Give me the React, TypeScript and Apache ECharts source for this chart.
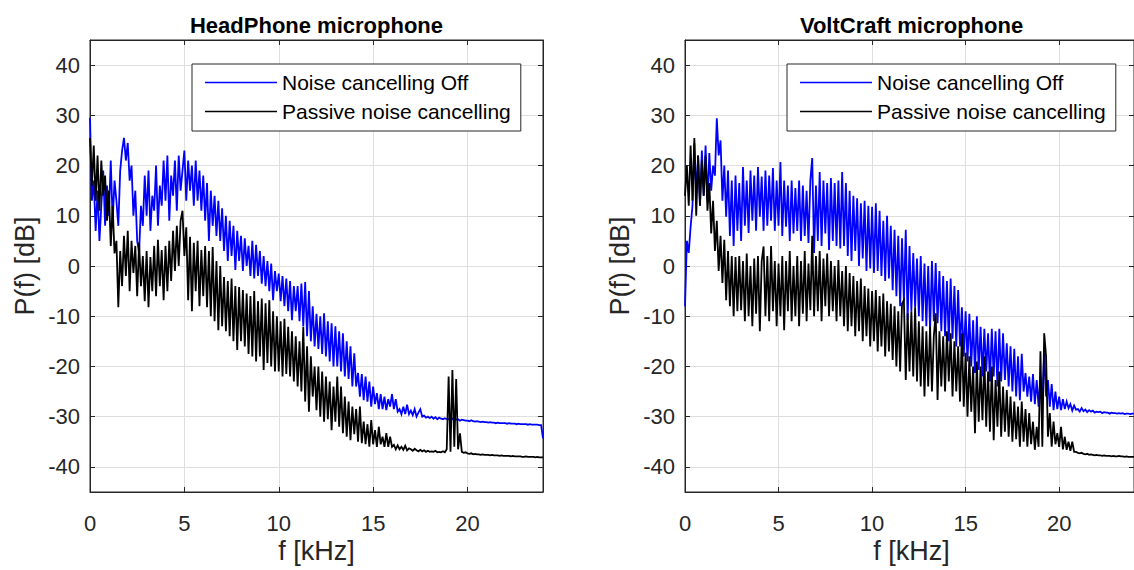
import React, { useEffect, useRef } from 'react';
import * as echarts from 'echarts';

// Frequency resolution of the value arrays (kHz between successive values)
const STEP_KHZ = 0.1;

const X_LABEL = 'f [kHz]';
const Y_LABEL = 'P(f) [dB]';
const TITLES = ['HeadPhone microphone', 'VoltCraft microphone'];
const SERIES_NAMES = ['Noise cancelling Off', 'Passive noise cancelling'];

// HeadPhone microphone, noise cancelling off (dB), 0..24 kHz every 0.1 kHz
const HP_OFF = [
  29.5, 13, 17, 7, 15, 5, 12, 19, 8, 16,
  10, 21, 9, 17, 13, 8, 19, 23, 25.5, 21,
  24.5, 17, 20, 10, 15, 5, 2.6, 12, 8, 18,
  10, 19, 7, 14, 11, 20, 8, 16, 12, 21,
  13, 22, 9, 18, 14, 21, 11, 22, 15, 19,
  23, 13, 21, 15, 20, 12, 21, 13, 19, 11,
  18, 9, 16.5, 5, 15, 8, 14, 6, 13, 5,
  11.5, 3, 10, 1, 9, 2, 8, -0.8, 7, 1,
  6, -1, 5.5, 0, 4, -2, 5, -2.5, 4.2, -2,
  3, -3.5, 2, -4, 1, -5, 0.5, -6.8, -1, -5,
  -1.5, -7, -2, -8, -2.5, -9, -3, -10.8, -4, -9,
  -4, -11, -3.5, -12, -3.2, -14, -5, -15, -8, -16,
  -9.5, -16.5, -10, -17.5, -9.4, -18, -11, -19, -11.4, -20,
  -12, -20, -13, -21, -13.4, -22, -15, -22.5, -16, -24,
  -17.4, -24, -21.3, -26, -21.5, -26.7, -22, -27, -23, -28,
  -24, -27.5, -25.3, -28.5, -25.5, -28.5, -26, -28.7, -26.5, -28,
  -25.5, -28.5, -26.5, -29, -28.5, -29.5, -28, -29.5, -27.6, -29.5,
  -28.8, -29.7, -28.5, -30, -29.2, -28.5, -30, -29.8, -30.2, -30,
  -30.3, -30, -30.4, -30.1, -30.5, -30.2, -30.4, -30.5, -30.3, -30.5,
  -30.5, -30.6, -30.4, -30.7, -30.6, -30.5, -30.8, -30.6, -30.7, -30.8,
  -30.8, -30.9, -30.7, -30.9, -31, -30.9, -31, -31.1, -31, -31.1,
  -31.1, -31.2, -31.1, -31.2, -31.2, -31.3, -31.2, -31.3, -31.3, -31.3,
  -31.3, -31.4, -31.3, -31.4, -31.4, -31.4, -31.5, -31.4, -31.5, -31.5,
  -31.5, -31.5, -31.6, -31.5, -31.6, -31.6, -31.6, -31.6, -31.7, -31.7,
  -34.3,
];

// HeadPhone microphone, passive noise cancelling (dB)
const HP_PASSIVE = [
  25.5, 16, 24, 13, 22, 11, 21, 14, 18, 9,
  15, 4, 12, 2.5, 5, -8.2, 3, -4, 6, -2,
  7, -5, 5, -1.4, 4, -6, 4.6, -4, 2, -7,
  3, -8.2, 1.8, -5, 4, -6, 5.2, -4, 3.2, -6.8,
  4, -5, 5, -3, 7, -1, 8, 0, 9, 11,
  2, 7.7, -6.8, 5.8, -9, 4.6, -5, 5, -8, 3.2,
  -6, 4, -8.2, 3, -10, 3.8, -11, 1, -12.8, 0,
  -12, -2.2, -13, -3, -14, -2.5, -15, -4, -16.7, -4.2,
  -15, -4.8, -16, -5.5, -17.5, -6, -18, -5, -19, -7,
  -18, -6.5, -20.7, -7.4, -19.3, -6.8, -20, -9, -21, -10,
  -21, -11, -22, -10.5, -21.5, -12.1, -22, -13, -23, -14,
  -24, -15, -25, -12.1, -27, -16, -29, -18, -26, -20,
  -28.7, -20, -30, -21, -31, -22, -30.5, -23, -32.7, -24,
  -31, -22, -32, -24, -33.3, -26, -34, -27, -34.7, -28,
  -33.5, -28.5, -35, -28, -35.3, -31, -35.5, -31.5, -36, -30.7,
  -35.5, -32.7, -36, -32, -35.5, -34, -36, -33.3, -36, -34,
  -36, -35.6, -36.5, -35.7, -36.5, -36, -36.6, -35.8, -36.7, -36.3,
  -36.5, -36.8, -36.4, -36.7, -36.9, -36.6, -36.9, -36.7, -37, -36.8,
  -37, -36.9, -37, -36.8, -37.1, -37, -37.1, -36.9, -37.1, -36.5,
  -22, -37, -20.7, -36, -22.5, -36.5, -33.3, -37, -37.2, -37.1,
  -37.3, -37.4, -37.3, -37.5, -37.4, -37.5, -37.5, -37.6, -37.5, -37.6,
  -37.6, -37.6, -37.7, -37.6, -37.7, -37.7, -37.7, -37.8, -37.7, -37.8,
  -37.8, -37.8, -37.8, -37.9, -37.8, -37.9, -37.9, -37.9, -37.9, -38,
  -38, -37.9, -38, -38, -38, -38, -38.1, -38, -38.1, -38.1,
  -38.1,
];

// VoltCraft microphone, noise cancelling off (dB)
const VC_OFF = [
  -8, 5, 2.6, 7.8, 12, 24.5, 14, 22, 12, 23,
  14, 24, 13, 22.5, 15, 20, 18, 29.4, 22, 25,
  13, 20, 9.8, 19, 6, 17, 4, 18, 7, 16.5,
  5, 19.7, 8, 17, 6.6, 19, 9, 18, 7, 19.7,
  9.8, 17.8, 7, 19, 8, 18, 9, 19.5, 7, 17,
  8, 20.7, 6, 17, 7.8, 16, 5, 17, 6.5, 15.5,
  7, 17, 5, 16, 6, 15, 4.6, 17, 21.5, 2.6,
  16, 5, 18.7, 4, 17, 6.5, 16.5, 3.2, 17.5, 5,
  16.5, 4, 17, 3.5, 18.7, 4, 16.5, 2, 15, 1,
  14, 3, 13.5, 0, 12.5, 1.5, 13, -1, 12, -0.5,
  11.8, -1.4, 12.5, -1, 11, -2, 9, -3, 10, -2.5,
  8, -4.8, 7.2, -6, 6, -8, 5.5, -7, 7.2, -10.8,
  4, -9, 2.6, -8.2, 1.5, -10, 2, -11, 0.5, -12,
  0, -12.8, 1, -11, 0.6, -11.4, -1, -13, -2, -14,
  -3, -15, -2.5, -14.5, -4, -16, -4.8, -16, -8.2, -18,
  -9, -19, -9.5, -20, -10.8, -21.3, -10, -20.7, -12.1, -22,
  -12.5, -21, -13.4, -23, -12.5, -22, -13, -24, -12.5, -23,
  -13.4, -22.7, -15.4, -24, -16, -25, -16.5, -26, -18, -26.7,
  -17.5, -25, -21.3, -26, -22, -27, -21.5, -27.5, -22.7, -28,
  -22, -27, -17.3, -26, -22.7, -28, -23.5, -28.7, -25, -28.5,
  -26, -28.7, -26.5, -28.5, -27, -28.3, -27.5, -28.8, -27.8, -28.6,
  -28.5, -29, -28.3, -28.9, -28.6, -29.1, -28.7, -29, -28.8, -29.2,
  -29, -29.1, -29, -29.3, -29.1, -29.2, -29.2, -29.4, -29.2, -29.3,
  -29.3, -29.4, -29.3, -29.4, -29.3, -29.5, -29.4, -29.4, -29.5, -29.4,
  -29.4,
];

// VoltCraft microphone, passive noise cancelling (dB)
const VC_PASSIVE = [
  14, 20, 12, 24, 13, 25.5, 10, 22, 12, 21,
  14, 22, 11, 16.5, 6.5, 13, 3, 9, -1, 6,
  -3.4, 5.2, -6.8, 3, -8, 2, -10, 1.8, -9, 2,
  -8.8, 1, -11, 2.5, -10, 0, -12, 1.5, -9.5, 2,
  -13, 1, 3.9, -10, 2, -11, 4, -9, 1, -12,
  0.5, -10, 2, -12.8, 1, -9, 3, -11, 0, -10,
  2, -12, 1, -9.5, 3, -11, 0.5, -8.8, 6, -10,
  2, -9, 3, -11, 1.5, -8, 2.5, -10, 1, -9,
  0, -11, 1.2, -10, -1, -12, 0, -13, -1.4, -12,
  -2, -14, -3, -13, -2.5, -15, -4, -14, -4.5, -16,
  -5, -15, -4.8, -17, -6, -16, -5.5, -18, -7, -17,
  -7.5, -18.7, -8, -20, -9, -21, -7.5, -6.8, -22.7, -9.4,
  -21, -9, -22, -8.2, -23, -11, -24, -12, -26, -13,
  -24, -12, -25, -14, -9.4, -26.7, -13, -24, -14, -25,
  -13, -23, -13.4, -26, -15, -25, -16, -27, -13.4, -28,
  -17.3, -30, -18, -29, -20, -33.3, -19, -31, -20, -30.7,
  -18, -32, -21, -33, -20, -34.7, -22.7, -32, -21, -34,
  -24, -33, -24.7, -34, -26, -35, -27, -34.5, -28, -36,
  -27, -35, -28.5, -36, -29.3, -35.5, -31, -36.6, -32, -36,
  -17, -36, -13.4, -18, -34, -29.3, -36, -31, -35.5, -33.3,
  -36, -32, -36.5, -34, -36.6, -35, -36.8, -35, -37, -37,
  -37.2, -37.3, -37.2, -37.4, -37.5, -37.4, -37.6, -37.5, -37.6, -37.7,
  -37.6, -37.7, -37.7, -37.8, -37.7, -37.8, -37.8, -37.8, -37.9, -37.8,
  -37.9, -37.9, -37.8, -37.9, -37.9, -38, -37.9, -38, -38, -38,
  -38,
];

const X_MIN = 0;
const X_MAX = 24;
const X_INTERVAL = 5;
const Y_MIN = -45;
const Y_MAX = 45;

const FONT = '"Liberation Sans", Arial, Helvetica, sans-serif';
const TXT = '#262626';
const GRID_COLOR = '#dedede';
const BLUE = '#0000ff';
const BLACK = '#000000';

function toPairs(vals: number[]) {
  return vals.map((v, i) => [Math.round(i * STEP_KHZ * 100) / 100, v]);
}

const GRIDS = [
  { left: 90, top: 40, width: 453, height: 452 },
  { left: 685, top: 40, width: 453, height: 452 },
];

function buildOption() {
  const grid = GRIDS.map((g) => ({
    ...g,
    show: true,
    borderColor: TXT,
    borderWidth: 1,
    backgroundColor: '#ffffff',
    containLabel: false,
  }));

  const xAxis: any[] = [];
  const yAxis: any[] = [];
  GRIDS.forEach((_, gi) => {
    xAxis.push({
      type: 'value',
      gridIndex: gi,
      min: X_MIN,
      max: X_MAX,
      interval: X_INTERVAL,
      position: 'bottom',
      axisLine: { show: true, onZero: false, lineStyle: { color: TXT, width: 1 } },
      axisTick: { show: true, inside: true, length: 5, lineStyle: { color: TXT, width: 1 } },
      axisLabel: { color: TXT, fontSize: 22, fontFamily: FONT, margin: 20, showMaxLabel: false },
      splitLine: { show: true, lineStyle: { color: GRID_COLOR, width: 1 } },
    });
    xAxis.push({
      type: 'value',
      gridIndex: gi,
      min: X_MIN,
      max: X_MAX,
      interval: X_INTERVAL,
      position: 'top',
      axisLine: { show: true, onZero: false, lineStyle: { color: TXT, width: 1 } },
      axisTick: { show: true, inside: true, length: 5, lineStyle: { color: TXT, width: 1 } },
      axisLabel: { show: false },
      splitLine: { show: false },
    });
    yAxis.push({
      type: 'value',
      gridIndex: gi,
      min: Y_MIN,
      max: Y_MAX,
      splitNumber: 9,
      position: 'left',
      axisLine: { show: true, onZero: false, lineStyle: { color: TXT, width: 1 } },
      axisTick: { show: true, inside: true, length: 5, lineStyle: { color: TXT, width: 1 } },
      axisLabel: {
        color: TXT,
        fontSize: 22,
        fontFamily: FONT,
        margin: 10,
        showMinLabel: false,
        showMaxLabel: false,
      },
      splitLine: { show: true, lineStyle: { color: GRID_COLOR, width: 1 } },
    });
    yAxis.push({
      type: 'value',
      gridIndex: gi,
      min: Y_MIN,
      max: Y_MAX,
      splitNumber: 9,
      position: 'right',
      axisLine: { show: true, onZero: false, lineStyle: { color: TXT, width: 1 } },
      axisTick: { show: true, inside: true, length: 5, lineStyle: { color: TXT, width: 1 } },
      axisLabel: { show: false },
      splitLine: { show: false },
    });
  });

  const seriesData = [
    [HP_OFF, HP_PASSIVE],
    [VC_OFF, VC_PASSIVE],
  ];
  const colors = [BLUE, BLACK];
  const series: any[] = [];
  seriesData.forEach((pair, gi) => {
    pair.forEach((vals, si) => {
      series.push({
        type: 'line',
        name: SERIES_NAMES[si],
        xAxisIndex: gi * 2,
        yAxisIndex: gi * 2,
        data: toPairs(vals),
        symbol: 'none',
        showSymbol: false,
        clip: true,
        lineStyle: { color: colors[si], width: 1.8, join: 'miter' },
        itemStyle: { color: colors[si] },
        emphasis: { disabled: true },
        z: 2 + si,
      });
    });
  });

  const legend = GRIDS.map((g) => ({
    left: g.left + 102,
    top: 64,
    orient: 'vertical',
    data: SERIES_NAMES,
    icon: 'rect',
    itemWidth: 72,
    itemHeight: 1.5,
    itemGap: 8,
    padding: [8, 10, 9, 13],
    borderColor: TXT,
    borderWidth: 1,
    backgroundColor: '#ffffff',
    selectedMode: false,
    textStyle: { fontSize: 21, color: '#000', fontFamily: FONT, lineHeight: 21 },
  }));

  const graphic: any[] = [];
  GRIDS.forEach((g, gi) => {
    const cx = g.left + g.width / 2;
    graphic.push({
      type: 'text',
      x: cx,
      y: 25,
      style: {
        text: TITLES[gi],
        fontSize: 22,
        fontWeight: 'bold',
        fontFamily: FONT,
        fill: '#000',
        align: 'center',
        verticalAlign: 'middle',
      },
    });
    graphic.push({
      type: 'text',
      x: cx,
      y: 551,
      style: {
        text: X_LABEL,
        fontSize: 27,
        fontFamily: FONT,
        fill: TXT,
        align: 'center',
        verticalAlign: 'middle',
      },
    });
    graphic.push({
      type: 'text',
      x: g.left - 65,
      y: g.top + g.height / 2,
      rotation: Math.PI / 2,
      style: {
        text: Y_LABEL,
        fontSize: 27,
        fontFamily: FONT,
        fill: TXT,
        align: 'center',
        verticalAlign: 'middle',
      },
    });
  });

  return {
    animation: false,
    backgroundColor: '#ffffff',
    grid,
    xAxis,
    yAxis,
    series,
    legend,
    graphic,
  };
}

export default function App() {
  const ref = useRef<HTMLDivElement>(null);
  useEffect(() => {
    if (!ref.current) return;
    const chart = echarts.init(ref.current, undefined, { renderer: 'svg' });
    chart.setOption(buildOption() as any);
    return () => chart.dispose();
  }, []);
  return (
    <div
      ref={ref}
      style={{ position: 'fixed', left: 0, top: 0, width: 1134, height: 570, background: '#fff' }}
    />
  );
}
